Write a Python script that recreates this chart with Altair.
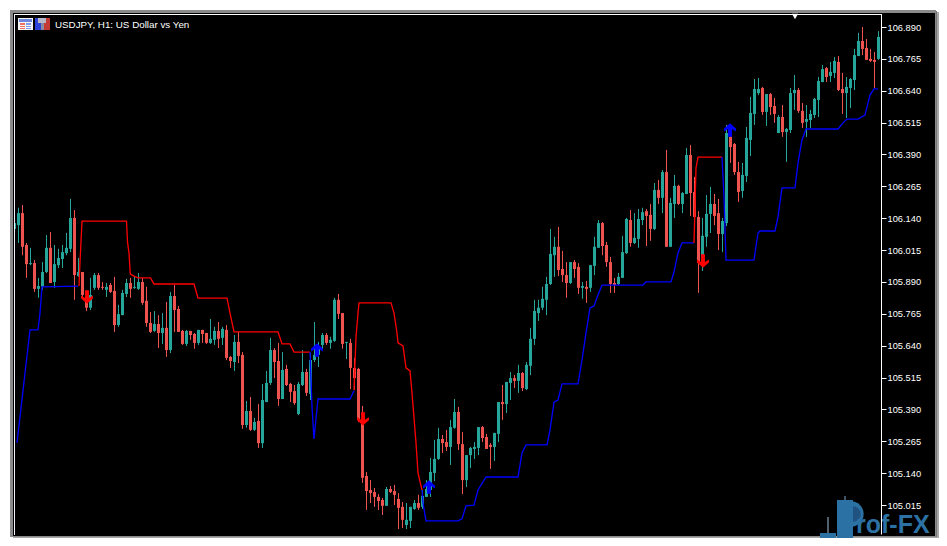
import altair as alt
import pandas as pd

HIGH = [
106.145,106.181,106.192,106.043,106.024,105.976,105.906,105.968,106.074,106.086,
106.035,106.020,106.035,106.082,106.216,106.172,105.984,105.929,105.831,105.906,
105.925,105.925,105.890,105.886,105.886,105.910,105.800,105.859,105.902,105.906,
105.910,105.925,105.906,105.871,105.772,105.776,105.760,105.768,105.812,105.851,
105.878,105.796,105.702,105.702,105.698,105.690,105.702,105.702,105.690,105.745,
105.714,105.733,105.714,105.721,105.600,105.682,105.694,105.615,105.423,105.439,
105.357,105.411,105.490,105.541,105.671,105.631,105.651,105.615,105.565,105.494,
105.486,105.498,105.623,105.549,105.611,105.733,105.655,105.690,105.690,105.675,
105.828,105.843,105.768,105.655,105.667,105.592,105.553,105.404,105.145,105.113,
105.082,105.058,105.043,105.086,105.090,105.094,105.062,105.027,105.023,105.008,
105.035,105.055,105.074,105.113,105.200,105.270,105.318,105.290,105.310,105.349,
105.431,105.400,105.302,105.211,105.243,105.262,105.321,105.325,105.294,105.258,
105.298,105.419,105.486,105.498,105.537,105.525,105.565,105.537,105.576,105.710,
105.820,105.820,105.871,105.910,106.098,106.067,106.106,106.012,105.968,105.968,
105.976,105.964,105.890,105.894,105.956,106.067,106.133,106.125,106.047,105.988,
105.906,105.925,106.071,106.141,106.172,106.160,106.176,106.181,106.176,106.196,
106.278,106.290,106.329,106.408,106.220,106.310,106.271,106.243,106.416,106.427,
106.302,106.168,106.141,106.231,106.263,106.235,106.216,106.141,106.506,106.502,
106.435,106.361,106.357,106.498,106.616,106.686,106.690,106.655,106.627,106.631,
106.612,106.545,106.584,106.494,106.651,106.702,106.651,106.592,106.584,106.565,
106.612,106.694,106.741,106.733,106.753,106.772,106.776,106.710,106.694,106.690,
106.804,106.867,106.890,106.843,106.804,106.792,106.874]

BODY_TOP = [
106.121,106.160,106.160,106.035,105.964,105.964,105.874,105.929,106.024,106.024,
105.960,105.984,106.007,106.024,106.141,106.141,105.929,105.929,105.812,105.839,
105.917,105.917,105.871,105.871,105.878,105.855,105.764,105.847,105.886,105.886,
105.871,105.890,105.890,105.816,105.729,105.725,105.725,105.710,105.710,105.835,
105.835,105.784,105.698,105.698,105.698,105.686,105.702,105.702,105.690,105.667,
105.698,105.698,105.706,105.702,105.596,105.655,105.655,105.604,105.384,105.384,
105.341,105.345,105.427,105.494,105.623,105.623,105.580,105.545,105.549,105.490,
105.462,105.490,105.537,105.537,105.584,105.604,105.635,105.682,105.682,105.663,
105.820,105.820,105.768,105.655,105.651,105.553,105.549,105.337,105.129,105.074,
105.066,105.047,105.035,105.078,105.078,105.070,105.039,105.008,104.957,105.008,
105.023,105.023,105.051,105.078,105.145,105.196,105.274,105.274,105.262,105.321,
105.380,105.380,105.254,105.211,105.239,105.243,105.321,105.321,105.282,105.251,
105.298,105.419,105.419,105.498,105.513,105.513,105.533,105.533,105.565,105.667,
105.776,105.789,105.824,105.882,106.000,106.028,106.028,105.941,105.917,105.968,
105.968,105.949,105.874,105.871,105.956,106.028,106.121,106.121,106.035,105.968,
105.886,105.910,106.007,106.137,106.133,106.063,106.137,106.164,106.168,106.153,
106.251,106.251,106.321,106.321,106.200,106.267,106.267,106.239,106.388,106.388,
106.243,106.145,106.071,106.157,106.196,106.196,106.160,106.129,106.474,106.459,
106.431,106.321,106.310,106.455,106.553,106.647,106.647,106.651,106.627,106.627,
106.580,106.537,106.537,106.490,106.631,106.643,106.643,106.561,106.529,106.549,
106.608,106.678,106.725,106.729,106.714,106.757,106.753,106.647,106.655,106.686,
106.780,106.835,106.835,106.808,106.765,106.761,106.851]

BODY_BOTTOM = [
106.098,106.113,106.028,105.960,105.960,105.863,105.863,105.871,105.929,105.886,
105.890,105.956,105.980,106.003,106.020,105.917,105.913,105.839,105.789,105.789,
105.867,105.867,105.867,105.859,105.851,105.721,105.721,105.760,105.843,105.863,
105.867,105.863,105.808,105.729,105.694,105.698,105.690,105.690,105.623,105.623,
105.780,105.694,105.647,105.647,105.682,105.651,105.651,105.686,105.651,105.651,
105.663,105.667,105.671,105.592,105.580,105.576,105.600,105.329,105.329,105.310,
105.310,105.258,105.258,105.419,105.494,105.576,105.431,105.431,105.486,105.459,
105.415,105.372,105.486,105.455,105.451,105.584,105.604,105.643,105.651,105.651,
105.659,105.765,105.647,105.651,105.553,105.513,105.349,105.122,105.070,105.062,
105.047,105.031,105.012,105.012,105.066,105.055,105.004,104.957,104.937,104.953,
105.000,105.004,105.008,105.047,105.074,105.141,105.196,105.258,105.243,105.243,
105.318,105.254,105.113,105.113,105.211,105.235,105.239,105.278,105.235,105.243,
105.243,105.294,105.411,105.411,105.494,105.502,105.502,105.474,105.470,105.561,
105.667,105.768,105.789,105.820,105.882,105.995,105.937,105.917,105.886,105.886,
105.941,105.867,105.867,105.863,105.867,105.953,106.024,106.031,105.968,105.882,
105.878,105.882,105.906,106.003,106.043,106.043,106.059,106.133,106.149,106.098,
106.098,106.220,106.220,106.028,106.028,106.196,106.196,106.196,106.235,106.239,
106.145,105.964,105.964,106.067,106.157,106.149,106.078,106.078,106.121,106.419,
106.321,106.243,106.247,106.306,106.447,106.549,106.631,106.557,106.557,106.576,
106.549,106.474,106.478,106.478,106.486,106.631,106.561,106.514,106.518,106.525,
106.545,106.604,106.674,106.694,106.698,106.710,106.643,106.631,106.631,106.651,
106.682,106.776,106.804,106.761,106.757,106.753,106.765]

LOW = [
106.082,106.043,105.995,105.906,105.956,105.851,105.828,105.859,105.925,105.886,
105.867,105.945,105.945,105.995,106.007,105.820,105.910,105.831,105.776,105.780,
105.859,105.859,105.859,105.831,105.847,105.694,105.714,105.760,105.831,105.828,
105.863,105.859,105.800,105.714,105.690,105.694,105.631,105.647,105.596,105.611,
105.694,105.694,105.643,105.639,105.663,105.628,105.643,105.651,105.647,105.647,
105.643,105.631,105.643,105.584,105.553,105.541,105.572,105.314,105.318,105.306,
105.306,105.239,105.239,105.419,105.486,105.513,105.404,105.431,105.482,105.419,
105.408,105.368,105.482,105.443,105.427,105.576,105.557,105.623,105.643,105.628,
105.655,105.745,105.628,105.588,105.470,105.466,105.341,105.102,104.996,105.023,
105.008,104.996,104.976,105.012,105.062,105.015,104.921,104.925,104.921,104.925,
104.996,104.996,105.000,105.047,105.047,105.109,105.192,105.219,105.227,105.172,
105.314,105.231,105.058,105.086,105.160,105.196,105.211,105.262,105.235,105.157,
105.188,105.262,105.349,105.376,105.427,105.474,105.455,105.462,105.466,105.525,
105.643,105.737,105.780,105.760,105.878,105.910,105.913,105.890,105.828,105.882,
105.906,105.843,105.824,105.808,105.851,105.917,106.024,105.995,105.949,105.847,
105.847,105.878,105.906,106.000,106.028,106.039,106.024,106.113,106.031,106.051,
106.094,106.196,106.160,106.028,106.028,106.141,106.192,106.160,106.235,106.149,
106.141,105.847,105.933,106.028,106.082,106.113,106.015,106.007,106.109,106.357,
106.310,106.204,106.220,106.282,106.384,106.506,106.623,106.545,106.502,106.545,
106.514,106.474,106.459,106.361,106.474,106.565,106.553,106.494,106.459,106.494,
106.533,106.537,106.674,106.674,106.674,106.690,106.639,106.549,106.533,106.572,
106.643,106.776,106.780,106.761,106.753,106.651,106.761]

DIRECTION = (
"TTSSTSTTTS" "TTTTTSTSST" "TSSTSSTTTS" "TTSSSTSTST" "SSSTSSTSST"
"TSTSSTSSTS" "TSTTTSSTSS" "STTSTTTTST" "TSSTSSSSSS" "SSSTSSSSTT"
"TSTTTTTSST" "TSSTTTTSSS" "TTSTTSTSTT" "TTTTTTSSST" "SSTSTTTSSS"
"STTTSTTTSS" "TSTSTTSTTS" "SSTTTSSTTS" "SSTTTTTSTS" "STSTTTSSTT"
"TTTSTTSSTT" "TTSSSST")

# Stop-line segments: bar position, price
BLUE1_BAR = [0.625,3.375,3.875,5.875,6.375,6.875,15.875]
BLUE1_PRICE = [105.259,105.635,105.702,105.702,105.768,105.871,105.874]
RED1_BAR = [16.125,16.375,16.875,28.0,28.25,28.625,28.95,29.875,30.875,34,34.875,44.875,45.875,53.125,53.875,54.875,65.875,66.875,68.875,69.875,73.875]
RED1_PRICE = [105.874,105.968,106.129,106.129,106.047,106.003,105.921,105.913,105.906,105.906,105.882,105.882,105.827,105.827,105.768,105.694,105.694,105.647,105.647,105.615,105.615]
BLUE2_BAR = [73.875,74.375,74.875,75.875,83.875,84.875]
BLUE2_PRICE = [105.615,105.400,105.274,105.431,105.431,105.463]
RED2_BAR = [84.875,85.375,85.875,86.125,94.125,94.875,95.625,95.875,97.125,97.875,98.875,99.375,100.375,100.875,101.875]
RED2_PRICE = [105.466,105.674,105.768,105.808,105.808,105.768,105.690,105.651,105.639,105.553,105.541,105.455,105.259,105.141,105.074]
BLUE3_BAR = [101.875,102.125,102.875,110.875,111.875,112.875,114.875,115.875,117.875,125.875,126.875,127.875,133.125,133.875,134.875,135.875,136.875,140.875,141.875,142.875,143.875,144.875,145.875,146.875,157.125,157.875,164.125,164.875,165.875,166.875,169.875]
BLUE3_PRICE = [105.074,105.023,104.953,104.953,104.961,105.012,105.015,105.074,105.125,105.125,105.219,105.251,105.251,105.310,105.419,105.427,105.490,105.490,105.584,105.690,105.788,105.796,105.839,105.878,105.878,105.890,105.890,105.929,106.004,106.043,106.043]
RED3_BAR = [169.875,170.375,170.875,176.875]
RED3_PRICE = [106.043,106.337,106.380,106.380]
BLUE4_BAR = [176.875,177.375,177.875,184.875,185.875,186.375,190.125,190.875,191.875,195.125,195.875,196.875,197.875,205.875,207.125,208.125,210.875,212.625,213.875,214.875,215.875]
BLUE4_PRICE = [106.380,106.223,105.976,105.976,106.082,106.090,106.090,106.145,106.259,106.259,106.357,106.447,106.490,106.490,106.514,106.529,106.529,106.545,106.623,106.647,106.647]

UP_ARROW_BAR = [75.625,103.625,178.875]
UP_ARROW_PRICE = [105.623,105.086,106.486]
DOWN_ARROW_BAR = [18.125,87.125,172.125]
DOWN_ARROW_PRICE = [105.831,105.353,105.972]

TICKS = [106.890,106.765,106.640,106.515,106.390,106.265,106.140,106.015,
         105.890,105.765,105.640,105.515,105.390,105.265,105.140,105.015]
TITLE = "USDJPY, H1:  US Dollar vs Yen"

UP_COLOR = "#26a69a"
DOWN_COLOR = "#ef5350"

candles = pd.DataFrame({
    "bar": list(range(len(HIGH))), "high": HIGH, "top": BODY_TOP,
    "bottom": BODY_BOTTOM, "low": LOW, "dir": list(DIRECTION),
})

segs = []
for name, col, bars, prices in [
    ("b1", "blue", BLUE1_BAR, BLUE1_PRICE), ("r1", "red", RED1_BAR, RED1_PRICE),
    ("b2", "blue", BLUE2_BAR, BLUE2_PRICE), ("r2", "red", RED2_BAR, RED2_PRICE),
    ("b3", "blue", BLUE3_BAR, BLUE3_PRICE), ("r3", "red", RED3_BAR, RED3_PRICE),
    ("b4", "blue", BLUE4_BAR, BLUE4_PRICE)]:
    for k, (b, p) in enumerate(zip(bars, prices)):
        segs.append({"seg": name, "side": col, "bar": b, "price": p, "k": k})
lines = pd.DataFrame(segs)

# plot area in page pixels: x 15..881, y 14..534
W, H = 866, 520
xs = alt.Scale(domain=[0.125, 0.125 + W / 4], nice=False, zero=False, padding=0)
ys = alt.Scale(domain=[104.9015, 106.941], nice=False, zero=False, padding=0)
X = alt.X("bar:Q", scale=xs, axis=None)
Y_AXIS = alt.Axis(
    orient="right", values=TICKS, format=".3f", grid=False, zindex=1, title=None,
    domain=True, domainColor="#ffffff", domainWidth=1,
    ticks=True, tickColor="#ffffff", tickSize=5, tickWidth=1,
    labels=True, labelColor="#ffffff", labelFont="Liberation Sans",
    labelFontSize=9.3, labelPadding=1, labelOverlap=False, labelFlush=False)

def px(v):
    return alt.value(v - 15)

def py(v):
    return alt.value(v - 14)

def box(x0, y0, x1, y1, color, **kw):
    return alt.Chart().mark_rect(color=color, **kw).encode(x=px(x0), x2=px(x1), y=py(y0), y2=py(y1))

frame = [
    box(937, 12, 939, 538, "#a8a8a8"),
    box(935, 11, 937, 538, "#787878"),
    box(13, 536, 937, 537, "#808080"), box(13, 537, 939, 538, "#a8a8a8"),
    box(10, 10, 936, 537, "#8a8a8a"),
    box(13, 13, 935, 536, "#000000"),
    box(14, 14, 882, 15, "#ffffff"),
    box(14, 14, 15, 535, "#f4f4ff"),
]

icons = [
    box(18, 18, 33, 30, "#f4f4f4"), box(19, 19, 32, 22, "#6f86e0"),
    box(20, 23, 25, 29, "#ee7060"), box(26, 23, 31, 29, "#7f9ae8"),
    box(20, 25, 31, 26, "#f4f4f4"), box(20, 27, 31, 28, "#f4f4f4"),
    box(35, 18, 42, 30, "#2c44d8"), box(42, 18, 50, 30, "#c43a34"),
    box(38, 18, 46, 23, "#b8b8c8"), box(41, 23, 44, 30, "#8a8aa0"),
]

wick = alt.Chart(candles).mark_rule(strokeWidth=1, clip=True).encode(
    x=X,
    y=alt.Y("high:Q", scale=ys, axis=Y_AXIS),
    y2="low:Q",
    color=alt.Color("dir:N", legend=None,
                    scale=alt.Scale(domain=["T", "S"], range=[UP_COLOR, DOWN_COLOR])),
)
body = alt.Chart(candles).mark_bar(size=3, clip=True, orient="vertical").encode(
    x=X,
    y=alt.Y("top:Q", scale=ys, axis=Y_AXIS),
    y2="bottom:Q",
    color=alt.Color("dir:N", legend=None,
                    scale=alt.Scale(domain=["T", "S"], range=[UP_COLOR, DOWN_COLOR])),
)

stop_lines = alt.Chart(lines).mark_line(strokeWidth=1.3, clip=True, interpolate="linear").encode(
    x=X,
    y=alt.Y("price:Q", scale=ys, axis=Y_AXIS),
    detail="seg:N",
    order="k:Q",
    stroke=alt.Stroke("side:N", legend=None,
                      scale=alt.Scale(domain=["red", "blue"], range=["#ff0000", "#0000ff"])),
)

DOWN_PATH = "M-0.32,-1.1 L0.32,-1.1 L0.32,0.15 L0.95,-0.25 L1,0.2 L0,1.1 L-1,0.2 L-0.95,-0.25 L-0.32,0.15 Z"
UP_PATH = "M-0.32,1.1 L0.32,1.1 L0.32,-0.15 L0.95,0.25 L1,-0.2 L0,-1.1 L-1,-0.2 L-0.95,0.25 L-0.32,-0.15 Z"

up_arrows = alt.Chart(pd.DataFrame({"bar": UP_ARROW_BAR, "price": UP_ARROW_PRICE})).mark_point(
    shape=UP_PATH, filled=True, color="#0000ff", size=150, opacity=1).encode(
    x=X, y=alt.Y("price:Q", scale=ys, axis=Y_AXIS))
down_arrows = alt.Chart(pd.DataFrame({"bar": DOWN_ARROW_BAR, "price": DOWN_ARROW_PRICE})).mark_point(
    shape=DOWN_PATH, filled=True, color="#ff0000", size=150, opacity=1).encode(
    x=X, y=alt.Y("price:Q", scale=ys, axis=Y_AXIS))

title = alt.Chart().mark_text(text=TITLE, align="left", baseline="middle", color="#ffffff",
                              font="Liberation Sans", fontSize=9.8).encode(x=px(55), y=py(24.5))
marker = alt.Chart().mark_point(shape="triangle-down", filled=True, color="#ffffff",
                                size=38, opacity=1).encode(x=px(795), y=py(16.5))

WM = "#2b71a3"
mark_pieces = [
    box(827.5, 517, 828.5, 538, "#9fc0d8"), box(844.5, 496, 845.5, 538, "#7fa8c8"),
    box(820, 533, 836, 538, WM),
    alt.Chart().mark_point(shape="circle", filled=True, color=WM, size=640, opacity=1).encode(x=px(851), y=py(514)),
    alt.Chart().mark_point(shape="circle", filled=True, color="#1f5280", size=240, opacity=1).encode(x=px(853), y=py(514)),
    box(837, 500, 853, 538, WM),
    alt.Chart().mark_text(text="rof-FX", align="left", baseline="alphabetic", color=WM,
                          font="Liberation Sans", fontWeight="bold", fontSize=25).encode(x=px(856), y=py(532.5)),
]

layers = frame + [wick, body, stop_lines, up_arrows, down_arrows, title, marker] + icons + mark_pieces

chart = alt.layer(*layers).properties(
    width=W, height=H, background="#ffffff",
    padding={"left": 7, "top": 6, "right": 58, "bottom": 4},
    autosize=alt.AutoSizeParams(type="none"),
).configure_view(strokeWidth=0)

chart.save("out.html", embed_options={"renderer": "svg", "actions": False})
